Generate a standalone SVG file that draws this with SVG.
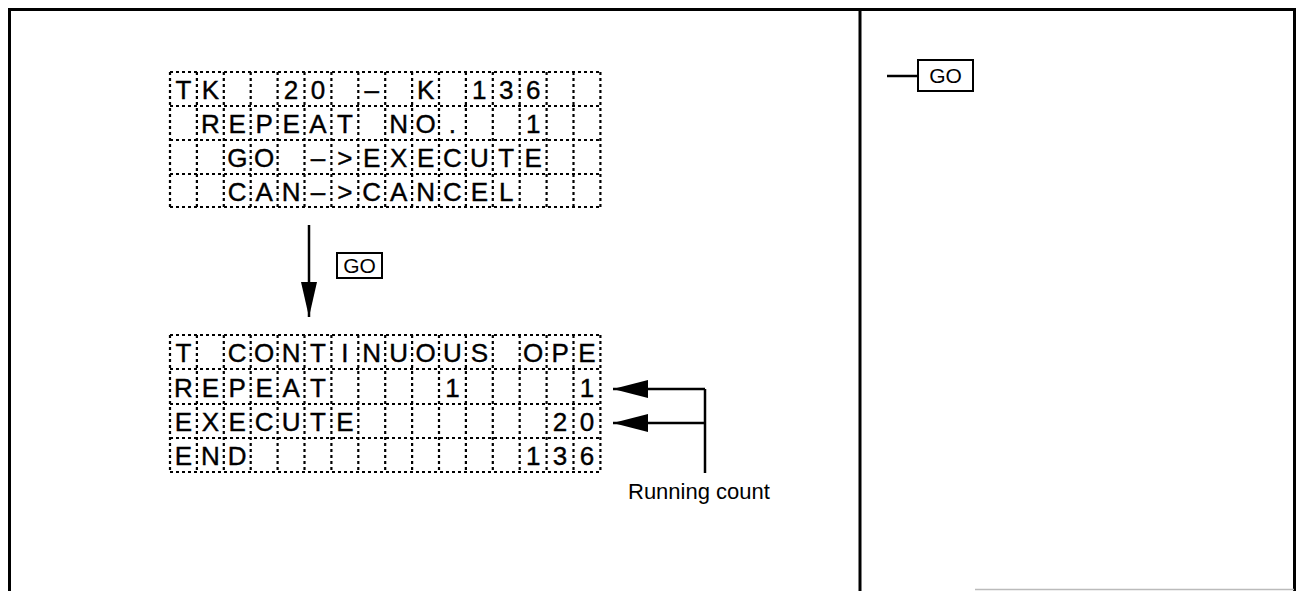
<svg xmlns="http://www.w3.org/2000/svg" width="1298" height="591" viewBox="0 0 1298 591">
  <style>
    .frame { stroke: #000; stroke-width: 3; fill: none; }
    .dots { stroke: #000; stroke-width: 2.2; stroke-dasharray: 3 3; fill: none; }
    .lcd { font-family: "Liberation Sans", Arial, sans-serif; font-size: 26px; fill: #000; stroke: #000; stroke-width: 0.4; text-anchor: middle; white-space: pre; }
    .key { fill: #fff; stroke: #000; stroke-width: 2; }
    .keytxt { font-family: "Liberation Sans", Arial, sans-serif; font-size: 21px; fill: #000; text-anchor: middle; }
    .label { font-family: "Liberation Sans", Arial, sans-serif; font-size: 22px; fill: #000; }
    .wire { stroke: #000; stroke-width: 2.5; fill: none; }
  </style>
  <defs>
    <marker id="head" markerUnits="userSpaceOnUse" markerWidth="36" markerHeight="18" refX="35" refY="9" orient="auto">
      <path d="M0,0 L35,9 L0,18 Z" fill="#000"/>
    </marker>
    <marker id="headV" markerUnits="userSpaceOnUse" markerWidth="36" markerHeight="16" refX="35" refY="8" orient="auto">
      <path d="M0,0 L35,8 L0,16 Z" fill="#000"/>
    </marker>
  </defs>

  <!-- table frame -->
  <g id="frame">
    <path class="frame" d="M9.5,591 V9.5 H1294.5 V591"/>
    <path class="frame" d="M860,9.5 V591"/>
    <path d="M975,589.5 H1294" stroke="#bbb" stroke-width="1.5" fill="none"/>
  </g>

  <!-- LCD before GO -->
  <g id="lcd-confirm">
    <path class="dots" d="M170,72 H600.4 M170,106 H600.4 M170,140 H600.4 M170,174 H600.4 M170,207 H600.4
      M170,72 V207 M196.9,72 V207 M223.8,72 V207 M250.7,72 V207 M277.6,72 V207 M304.5,72 V207 M331.4,72 V207 M358.3,72 V207
      M385.2,72 V207 M412.1,72 V207 M439,72 V207 M465.9,72 V207 M492.8,72 V207 M519.7,72 V207 M546.6,72 V207 M573.5,72 V207 M600.4,72 V207"/>
    <text class="lcd" xml:space="preserve" y="99" x="183.45 210.35 237.25 264.15 291.05 317.95 344.85 371.75 398.65 425.55 452.45 479.35 506.25 533.15 560.05 586.95">TK  20 – K 136  </text>
    <text class="lcd" xml:space="preserve" y="133" x="183.45 210.35 237.25 264.15 291.05 317.95 344.85 371.75 398.65 425.55 452.45 479.35 506.25 533.15 560.05 586.95"> REPEAT NO.  1  </text>
    <text class="lcd" xml:space="preserve" y="167" x="183.45 210.35 237.25 264.15 291.05 317.95 344.85 371.75 398.65 425.55 452.45 479.35 506.25 533.15 560.05 586.95">  GO –&gt;EXECUTE  </text>
    <text class="lcd" xml:space="preserve" y="200.5" x="183.45 210.35 237.25 264.15 291.05 317.95 344.85 371.75 398.65 425.55 452.45 479.35 506.25 533.15 560.05 586.95">  CAN–&gt;CANCEL   </text>
  </g>

  <!-- GO key beside the arrow -->
  <g id="key-go">
    <rect class="key" x="337" y="253" width="45" height="25"/>
    <text class="keytxt" x="359.5" y="273">GO</text>
  </g>

  <!-- LCD while running -->
  <g id="lcd-running">
    <path class="dots" d="M170,335 H600.4 M170,369 H600.4 M170,404 H600.4 M170,438 H600.4 M170,472 H600.4
      M170,335 V472 M196.9,335 V472 M223.8,335 V472 M250.7,335 V472 M277.6,335 V472 M304.5,335 V472 M331.4,335 V472 M358.3,335 V472
      M385.2,335 V472 M412.1,335 V472 M439,335 V472 M465.9,335 V472 M492.8,335 V472 M519.7,335 V472 M546.6,335 V472 M573.5,335 V472 M600.4,335 V472"/>
    <text class="lcd" xml:space="preserve" y="362" x="183.45 210.35 237.25 264.15 291.05 317.95 344.85 371.75 398.65 425.55 452.45 479.35 506.25 533.15 560.05 586.95">T CONTINUOUS OPE</text>
    <text class="lcd" xml:space="preserve" y="396.5" x="183.45 210.35 237.25 264.15 291.05 317.95 344.85 371.75 398.65 425.55 452.45 479.35 506.25 533.15 560.05 586.95">REPEAT    1    1</text>
    <text class="lcd" xml:space="preserve" y="431" x="183.45 210.35 237.25 264.15 291.05 317.95 344.85 371.75 398.65 425.55 452.45 479.35 506.25 533.15 560.05 586.95">EXECUTE       20</text>
    <text class="lcd" xml:space="preserve" y="465" x="183.45 210.35 237.25 264.15 291.05 317.95 344.85 371.75 398.65 425.55 452.45 479.35 506.25 533.15 560.05 586.95">END          136</text>
  </g>

  <!-- running count callout -->
  <g id="note-running-count">
    <text class="label" x="628" y="499">Running count</text>
  </g>

  <!-- key operation in the right column -->
  <g id="key-go-right">
    <rect class="key" x="918" y="60" width="55" height="31"/>
    <text class="keytxt" x="945.5" y="83">GO</text>
  </g>

  <g id="connectors">
    <path class="wire" d="M309,225 V317" marker-end="url(#headV)"/>
    <path class="wire" d="M705,389 H613" marker-end="url(#head)"/>
    <path class="wire" d="M705,423 H613" marker-end="url(#head)"/>
    <path class="wire" d="M705,389 V473"/>
    <path class="wire" d="M887,76 H918"/>
  </g>
</svg>
